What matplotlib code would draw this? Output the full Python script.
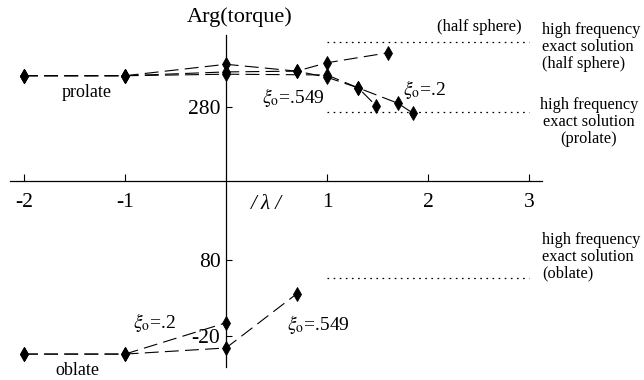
import matplotlib
matplotlib.use("Agg")
import matplotlib.pyplot as plt

plt.rcParams["font.family"] = ["Liberation Serif", "DejaVu Serif"]
plt.rcParams["mathtext.fontset"] = "stix"
plt.rcParams["lines.scale_dashes"] = False

# prolate spheroid, xi_o = .549
lam_pro_549 = [-2, -1, 0, 0.70, 1, 1.31, 1.49]
arg_pro_549 = [321, 321, 326, 327, 319, 305, 281]
# prolate spheroid, xi_o = .2
lam_pro_2 = [-2, -1, 0, 1, 1.31, 1.70, 1.85]
arg_pro_2 = [321, 321, 323, 322, 305, 285, 272]
# half sphere
lam_half = [-2, -1, 0, 0.70, 1, 1.60]
arg_half = [321, 321, 336, 327, 338, 351]
# oblate spheroid
lam_obl_2 = [-2, -1, 0]
arg_obl_2 = [-44, -44, -3]
lam_obl_549 = [-2, -1, 0, 0.70]
arg_obl_549 = [-44, -44, -36, 35]

# high frequency exact solutions
hf_lam = [1, 3]
hf_half = 365
hf_prolate = 273
hf_oblate = 56

xticks = [-2, -1, 1, 2, 3]
xtick_labels = ["-2", "-1", "1", "2", "3"]
yticks = [280, 80, -20]
ytick_labels = ["280", "80", "-20"]

fig = plt.figure(figsize=(6.44, 3.80), dpi=100)
ax = fig.add_axes([0, 0, 1, 1])
ax.set_xlim(-2.2376, 4.1386)
ax.set_ylim(-78.0, 420.3)

dash = (0, (10, 4.5))
for xs, ys in [(lam_pro_549, arg_pro_549), (lam_pro_2, arg_pro_2),
               (lam_half, arg_half), (lam_obl_2, arg_obl_2),
               (lam_obl_549, arg_obl_549)]:
    ax.plot(xs, ys, color="black", linewidth=0.8, linestyle=dash,
            marker="d", markersize=7.5, markerfacecolor="black",
            markeredgecolor="black", markeredgewidth=0.6)

dots = (0, (1.2, 3.2))
for level in [hf_half, hf_prolate, hf_oblate]:
    ax.plot(hf_lam, [level, level], color="black", linewidth=0.9, linestyle=dots)

# axes crossing in the middle of the figure
for side in ["top", "right"]:
    ax.spines[side].set_visible(False)
ax.spines["left"].set_position(("data", 0))
ax.spines["bottom"].set_position(("data", 183))
ax.spines["left"].set_bounds(-61, 374)
ax.spines["bottom"].set_bounds(-2.14, 3.13)
for sp in ["left", "bottom"]:
    ax.spines[sp].set_linewidth(0.9)

ax.set_xticks(xticks, xtick_labels)
ax.set_yticks(yticks, ytick_labels)
ax.tick_params(axis="x", direction="in", length=5, width=0.8, pad=9, labelsize=15.5)
ax.tick_params(axis="y", direction="in", length=4, width=0.8, pad=4, labelsize=15.5)
ax.patch.set_visible(False)

ax.text(0.139, 398, "Arg(torque)", ha="center", va="center", fontsize=16)
ax.text(0.396, 151.5, "/ λ /", ha="center", va="center", fontsize=15, style="italic")
ax.text(-1.376, 298.4, "prolate", ha="center", va="center", fontsize=13)
ax.text(-1.475, -66, "oblate", ha="center", va="center", fontsize=13)

ax.text(0.356, 285, r"$\xi_{\mathrm{o}}$=.549", ha="left", va="baseline", fontsize=14)
ax.text(1.752, 296, r"$\xi_{\mathrm{o}}$=.2", ha="left", va="baseline", fontsize=14)
ax.text(-0.92, -10, r"$\xi_{\mathrm{o}}$=.2", ha="left", va="baseline", fontsize=14)
ax.text(0.604, -12.5, r"$\xi_{\mathrm{o}}$=.549", ha="left", va="baseline", fontsize=14)

ax.text(2.089, 385, "(half sphere)", ha="left", va="center", fontsize=12)
ax.text(3.13, 358.7, "high frequency\nexact solution\n(half sphere)",
        ha="left", va="center", fontsize=11.8, linespacing=1.07)
ax.text(3.594, 260.3, "high frequency\nexact solution\n(prolate)",
        ha="center", va="center", fontsize=11.8, linespacing=1.07)
ax.text(3.129, 83.3, "high frequency\nexact solution\n(oblate)",
        ha="left", va="center", fontsize=11.8, linespacing=1.07)

fig.savefig("out.png", dpi=100)
